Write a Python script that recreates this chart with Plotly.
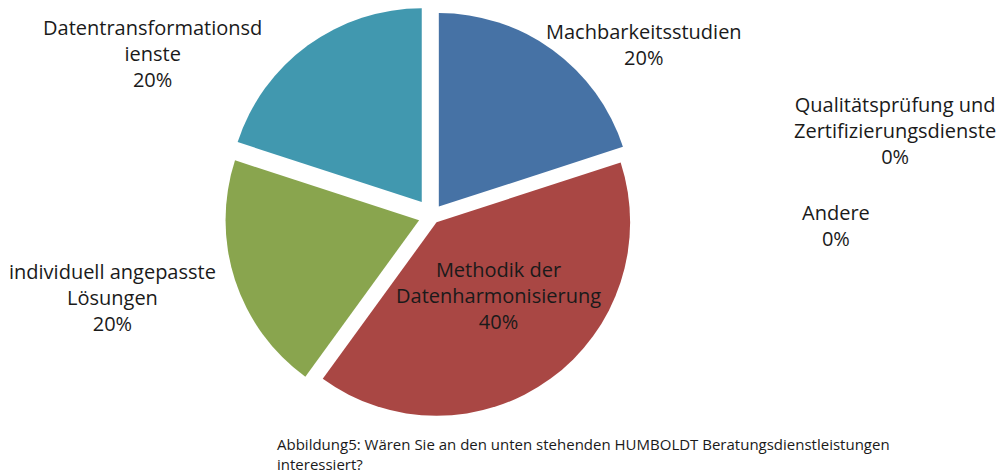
import plotly.graph_objects as go

categories = ["Machbarkeitsstudien", "Methodik der Datenharmonisierung",
              "individuell angepasste Lösungen", "Qualitätsprüfung und Zertifizierungsdienste",
              "Datentransformationsdienste", "Andere"]
values = [20, 40, 20, 0, 20, 0]
colors = ["#4672A5", "#A94744", "#89A54E", "#8064A2", "#4198AF", "#F79646"]
pulls = [0.06, 0.04, 0.07, 0, 0.09, 0]

label_texts = ["Machbarkeitsstudien<br>20%",
               "Methodik der<br>Datenharmonisierung<br>40%",
               "individuell angepasste<br>Lösungen<br>20%",
               "Qualitätsprüfung und<br>Zertifizierungsdienste<br>0%",
               "Datentransformationsd<br>ienste<br>20%",
               "Andere<br>0%"]
label_pos = [(644, 45), (499, 295), (112, 297), (895, 130), (152, 53), (836, 225)]

W, H = 997, 473
cx, cy, half = 432, 216, 211

fig = go.Figure(go.Pie(
    labels=categories, values=values, sort=False, direction="clockwise",
    rotation=0, pull=pulls, textinfo="none", hoverinfo="label+percent",
    marker=dict(colors=colors, line=dict(width=0)),
    domain=dict(x=[(cx - half) / W, (cx + half) / W],
                y=[1 - (cy + half) / H, 1 - (cy - half) / H]),
    showlegend=False,
))

for t, (x, y) in zip(label_texts, label_pos):
    fig.add_annotation(x=x / W, y=1 - y / H, xref="paper", yref="paper",
                       text=t, showarrow=False, xanchor="center", yanchor="middle",
                       font=dict(family="Open Sans", size=20, color="#1a1a1a"),
                       align="center")

fig.add_annotation(x=275 / W, y=1 - 454 / H, xref="paper", yref="paper",
                   text="Abbildung5: Wären Sie an den unten stehenden HUMBOLDT Beratungsdienstleistungen<br>interessiert?",
                   showarrow=False, xanchor="left", yanchor="middle", align="left",
                   font=dict(family="Open Sans", size=15, color="#1a1a1a"))

fig.update_layout(width=W, height=H, margin=dict(l=0, r=0, t=0, b=0),
                  paper_bgcolor="white", plot_bgcolor="white")
fig.write_html("out.html", config={"displayModeBar": False},
               post_script="document.body.style.margin='0';document.body.style.padding='0';")
